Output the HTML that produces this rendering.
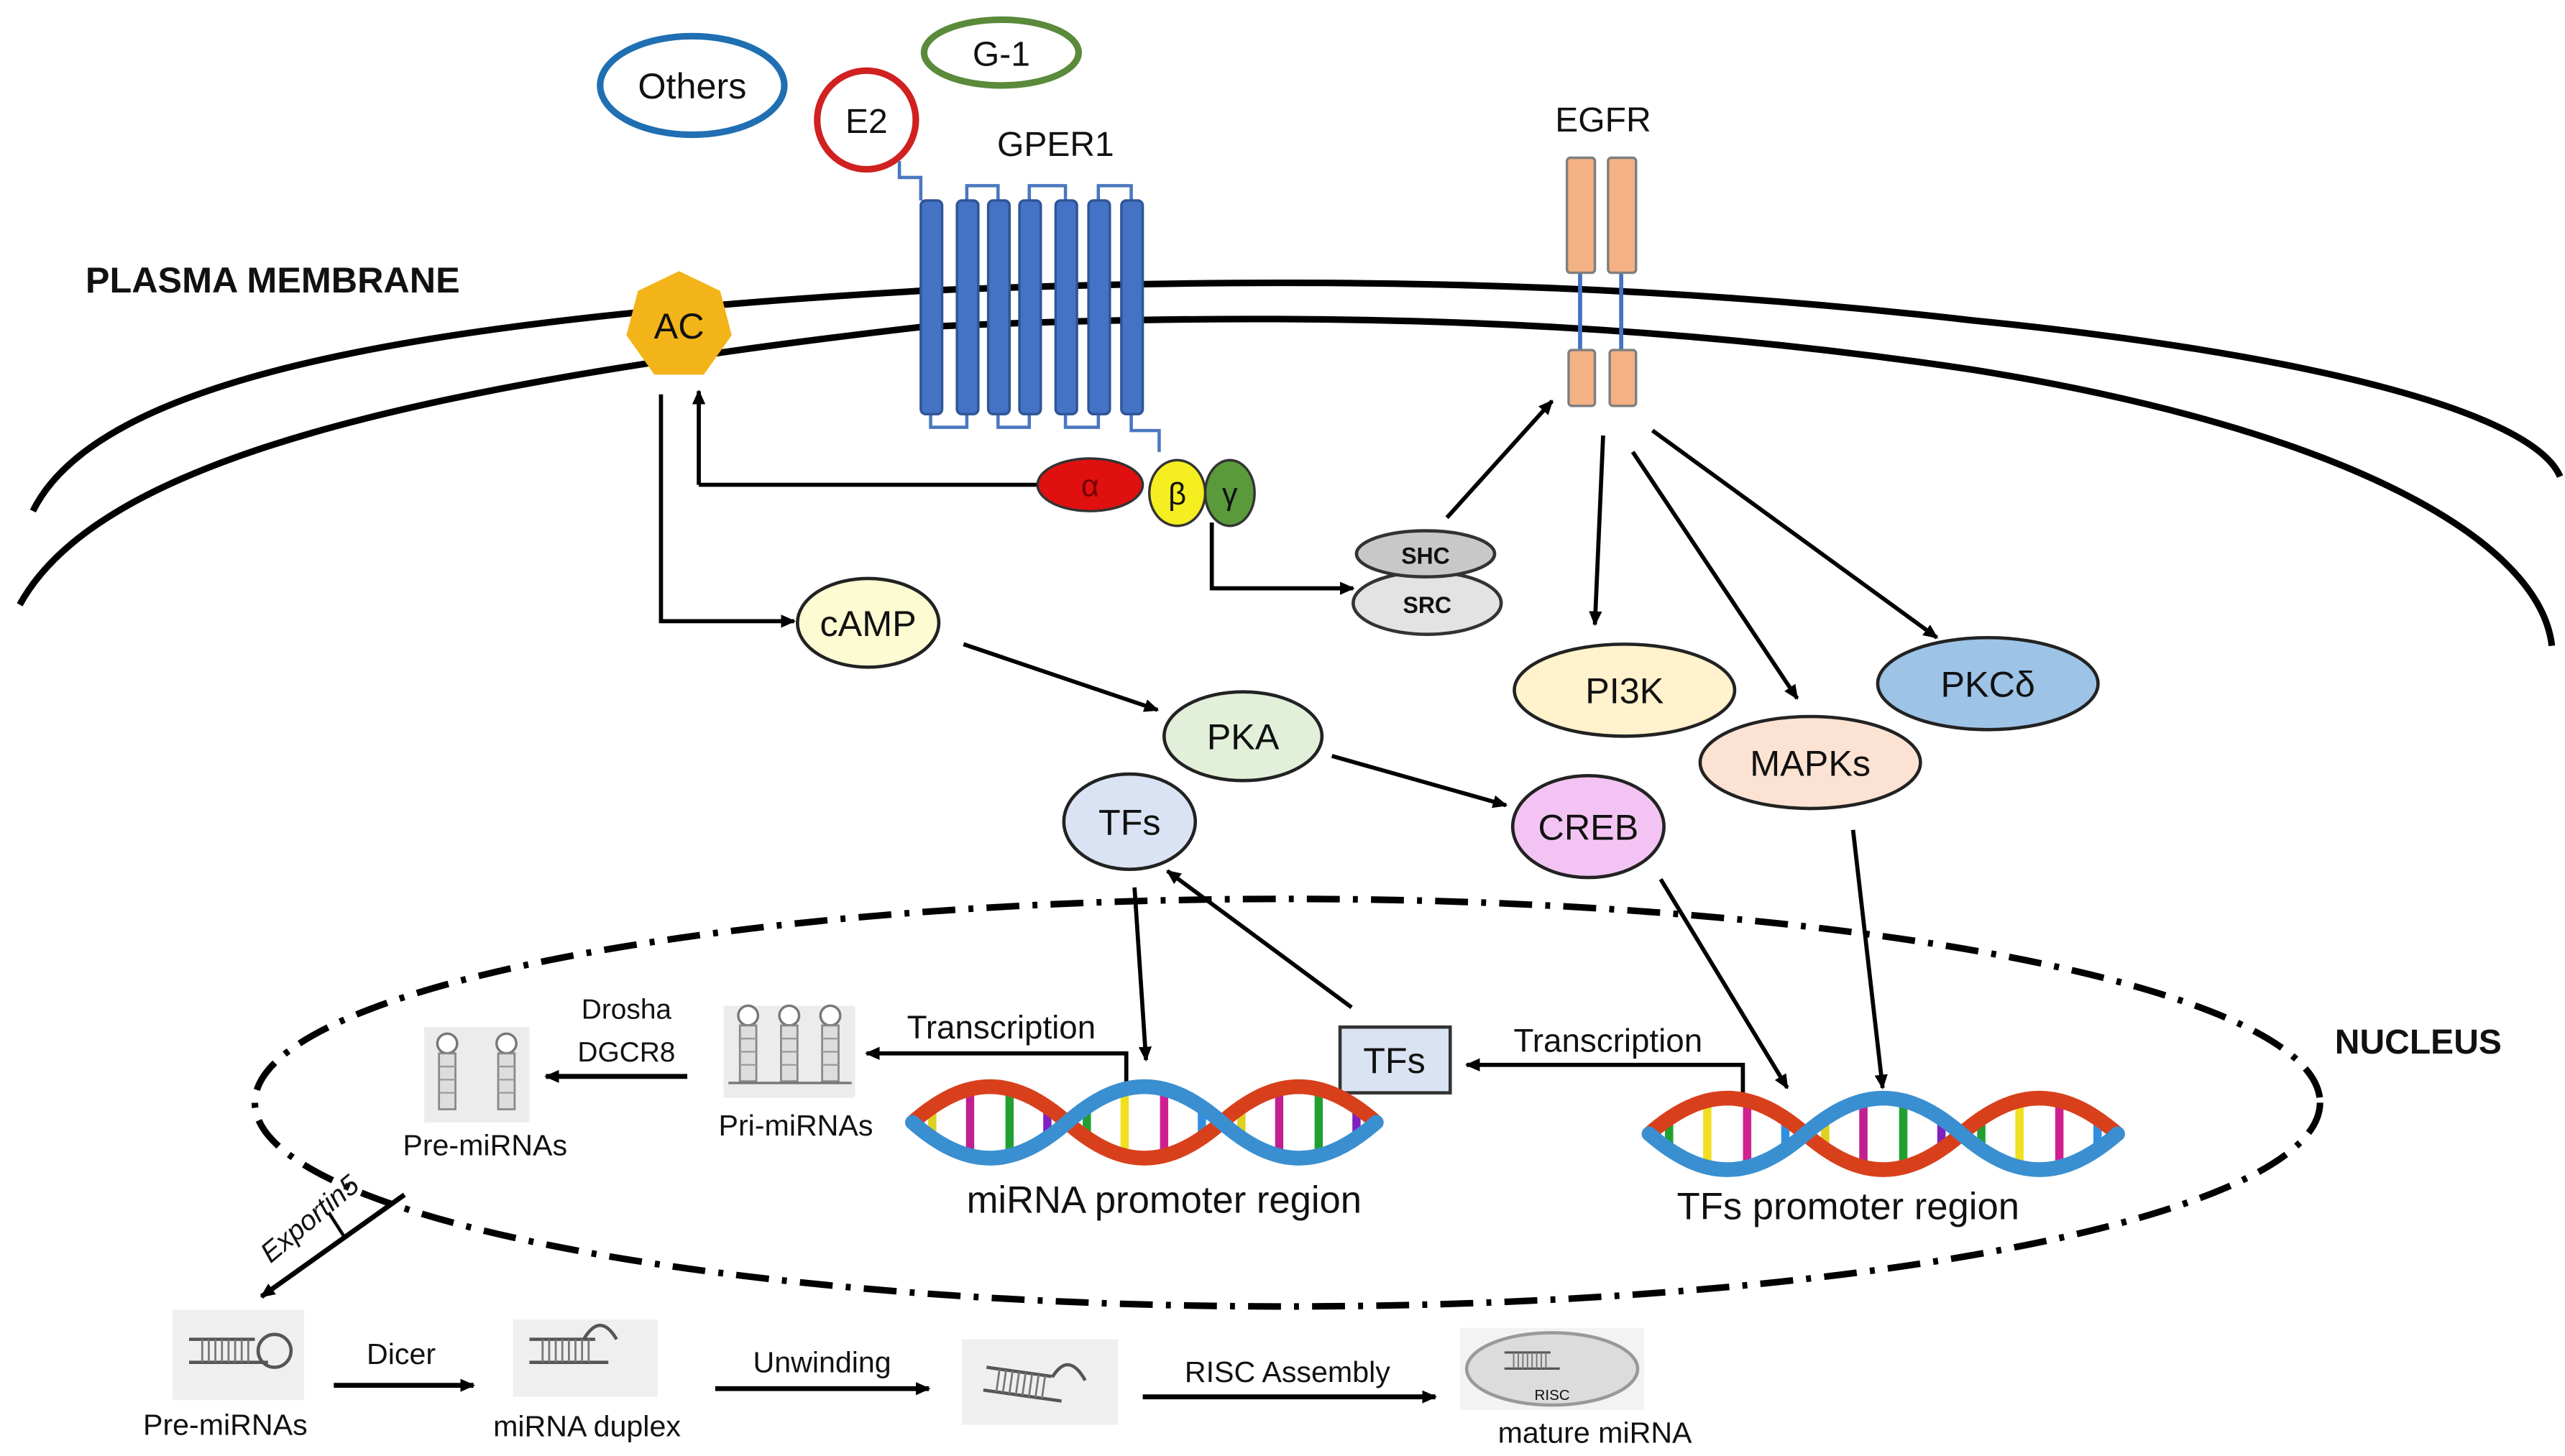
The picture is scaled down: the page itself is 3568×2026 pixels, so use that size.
<!DOCTYPE html>
<html><head><meta charset="utf-8"><style>
html,body{margin:0;padding:0;background:#fff;}
svg{display:block;}
text{font-family:"Liberation Sans",sans-serif;fill:#111;}
</style></head><body>
<svg width="3568" height="2026" viewBox="0 0 1560 886" preserveAspectRatio="none" xmlns="http://www.w3.org/2000/svg">
<defs>
<marker id="ah" markerWidth="10" markerHeight="10" refX="8" refY="5" orient="auto" markerUnits="userSpaceOnUse">
<path d="M0,1 L9,5 L0,9 z" fill="#000"/></marker>
<path id="strand" d="M0 0 C33 -29 61 -29 94 0 C127 29 155 29 188 0 C221 -29 249 -29 282 0" fill="none" stroke-width="9" stroke-linecap="round"/>
<g id="bars94">
<line x1="12" y1="-8" x2="12" y2="8" stroke="#e0d020" stroke-width="5"/>
<line x1="35" y1="-20" x2="35" y2="20" stroke="#c02090" stroke-width="5"/>
<line x1="59" y1="-20" x2="59" y2="20" stroke="#20a030" stroke-width="5"/>
<line x1="82" y1="-8" x2="82" y2="8" stroke="#8020c0" stroke-width="5"/>
</g>
<g id="bars94b">
<line x1="12" y1="-8" x2="12" y2="8" stroke="#20a030" stroke-width="5"/>
<line x1="35" y1="-20" x2="35" y2="20" stroke="#f0e020" stroke-width="5"/>
<line x1="59" y1="-20" x2="59" y2="20" stroke="#d02090" stroke-width="5"/>
<line x1="82" y1="-8" x2="82" y2="8" stroke="#3090e0" stroke-width="5"/>
</g>
<g id="hairpin">
<circle cx="0" cy="-20" r="6" fill="#fff" stroke="#777" stroke-width="1.5"/>
<rect x="-5" y="-14" width="10" height="34" fill="#ddd" stroke="#888" stroke-width="1.2"/>
<line x1="-5" y1="-6" x2="5" y2="-6" stroke="#999"/><line x1="-5" y1="2" x2="5" y2="2" stroke="#999"/><line x1="-5" y1="10" x2="5" y2="10" stroke="#999"/>
</g>
<g id="duplex">
<line x1="0" y1="0" x2="40" y2="0" stroke="#555" stroke-width="2"/>
<line x1="0" y1="14" x2="48" y2="14" stroke="#555" stroke-width="2"/>
<path d="M8 0 v14 M12 0 v14 M16 0 v14 M20 0 v14 M24 0 v14 M28 0 v14 M32 0 v14 M36 0 v14" stroke="#777" stroke-width="1.2"/>
</g>
</defs>

<!-- membrane -->
<path d="M20 311 C60 230 250 195 560 177 C800 167 1000 172 1200 195 C1400 215 1540 250 1557 290" fill="none" stroke="#000" stroke-width="4"/>
<path d="M12 368 C60 280 250 235 560 199 C800 188 1000 195 1200 225 C1430 262 1545 330 1552 393" fill="none" stroke="#000" stroke-width="4"/>
<text x="52" y="178" font-size="22" font-weight="bold">PLASMA MEMBRANE</text>

<!-- ligands -->
<ellipse cx="421" cy="52" rx="56" ry="30" fill="#fff" stroke="#1f6fb2" stroke-width="4"/>
<text x="421" y="60" font-size="22" text-anchor="middle">Others</text>
<ellipse cx="609" cy="32" rx="47" ry="20" fill="#fff" stroke="#5a8a3a" stroke-width="4"/>
<text x="609" y="40" font-size="21" text-anchor="middle">G-1</text>
<circle cx="527" cy="73" r="30" fill="#fff" stroke="#d02020" stroke-width="4"/>
<text x="527" y="81" font-size="21" text-anchor="middle">E2</text>
<text x="642" y="95" font-size="21" text-anchor="middle">GPER1</text>

<!-- GPER1 -->
<g fill="none" stroke="#4a78c0" stroke-width="2">
<path d="M547 98 V108 H560 V122"/>
<path d="M588 122 V113 H607 V122 M626 122 V113 H648 V122 M668 122 V113 H688 V122"/>
<path d="M566 252 V260 H588 V252 M607 252 V260 H626 V252 M648 252 V260 H668 V252"/>
<path d="M688 252 V262 H705 V275"/>
</g>
<g fill="#4472c4" stroke="#2f5597" stroke-width="1.5">
<rect x="560" y="122" width="13" height="130" rx="3"/>
<rect x="582" y="122" width="13" height="130" rx="3"/>
<rect x="601" y="122" width="13" height="130" rx="3"/>
<rect x="620" y="122" width="13" height="130" rx="3"/>
<rect x="642" y="122" width="13" height="130" rx="3"/>
<rect x="662" y="122" width="13" height="130" rx="3"/>
<rect x="682" y="122" width="13" height="130" rx="3"/>
</g>

<!-- AC -->
<polygon points="413,165 438,177 445,204 428,228 398,228 381,204 388,177" fill="#f2b418"/>
<text x="413" y="206" font-size="22" text-anchor="middle">AC</text>

<!-- G protein -->
<line x1="633" y1="295" x2="425" y2="295" stroke="#000" stroke-width="2.5"/>
<line x1="425" y1="295" x2="425" y2="238" stroke="#000" stroke-width="2.5" marker-end="url(#ah)"/>
<polyline points="402,240 402,378 483,378" fill="none" stroke="#000" stroke-width="2.5" marker-end="url(#ah)"/>
<ellipse cx="663" cy="295" rx="32" ry="16" fill="#e01010" stroke="#333" stroke-width="1.5"/>
<text x="663" y="302" font-size="19" text-anchor="middle" style="fill:#700">α</text>
<ellipse cx="716" cy="300" rx="17" ry="20" fill="#f5ee20" stroke="#333" stroke-width="1.5"/>
<text x="716" y="307" font-size="19" text-anchor="middle">β</text>
<ellipse cx="748" cy="300" rx="15" ry="20" fill="#5a9a3a" stroke="#333" stroke-width="1.5"/>
<text x="748" y="307" font-size="19" text-anchor="middle">γ</text>
<polyline points="737,318 737,358 823,358" fill="none" stroke="#000" stroke-width="2.5" marker-end="url(#ah)"/>

<!-- SHC SRC -->
<ellipse cx="868" cy="367" rx="45" ry="19" fill="#e3e3e3" stroke="#333" stroke-width="2"/>
<ellipse cx="867" cy="337" rx="42" ry="14" fill="#c8c8c8" stroke="#333" stroke-width="2"/>
<text x="867" y="343" font-size="14" font-weight="bold" text-anchor="middle">SHC</text>
<text x="868" y="373" font-size="14" font-weight="bold" text-anchor="middle">SRC</text>

<!-- EGFR -->
<text x="975" y="80" font-size="21" text-anchor="middle">EGFR</text>
<line x1="961" y1="165" x2="961" y2="213" stroke="#4472c4" stroke-width="2.5"/>
<line x1="986" y1="165" x2="986" y2="213" stroke="#4472c4" stroke-width="2.5"/>
<g fill="#f4b183" stroke="#7f7f7f" stroke-width="1.5">
<rect x="953" y="96" width="17" height="70" rx="2"/>
<rect x="978" y="96" width="17" height="70" rx="2"/>
<rect x="954" y="213" width="16" height="34" rx="2"/>
<rect x="979" y="213" width="16" height="34" rx="2"/>
</g>

<!-- nodes -->
<ellipse cx="988" cy="420" rx="67" ry="28" fill="#fff2cc" stroke="#222" stroke-width="2"/>
<text x="988" y="428" font-size="22" text-anchor="middle">PI3K</text>
<ellipse cx="1209" cy="416" rx="67" ry="28" fill="#9dc3e6" stroke="#222" stroke-width="2"/>
<text x="1209" y="424" font-size="22" text-anchor="middle">PKCδ</text>
<ellipse cx="1101" cy="464" rx="67" ry="28" fill="#fbe2d2" stroke="#222" stroke-width="2"/>
<text x="1101" y="472" font-size="22" text-anchor="middle">MAPKs</text>
<ellipse cx="528" cy="379" rx="43" ry="27" fill="#fdfbd2" stroke="#222" stroke-width="2"/>
<text x="528" y="387" font-size="22" text-anchor="middle">cAMP</text>
<ellipse cx="756" cy="448" rx="48" ry="27" fill="#e2efd9" stroke="#222" stroke-width="2"/>
<text x="756" y="456" font-size="22" text-anchor="middle">PKA</text>
<ellipse cx="687" cy="500" rx="40" ry="29" fill="#dae3f3" stroke="#222" stroke-width="2"/>
<text x="687" y="508" font-size="22" text-anchor="middle">TFs</text>
<ellipse cx="966" cy="503" rx="46" ry="31" fill="#f3c4f3" stroke="#222" stroke-width="2"/>
<text x="966" y="511" font-size="22" text-anchor="middle">CREB</text>

<!-- arrows -->
<g stroke="#000" stroke-width="2.5" marker-end="url(#ah)">
<line x1="880" y1="315" x2="944" y2="244"/>
<line x1="975" y1="265" x2="970" y2="380"/>
<line x1="993" y1="275" x2="1093" y2="425"/>
<line x1="1005" y1="262" x2="1178" y2="388"/>
<line x1="586" y1="392" x2="704" y2="432"/>
<line x1="810" y1="460" x2="916" y2="490"/>
<line x1="1010" y1="535" x2="1087" y2="662"/>
<line x1="1127" y1="505" x2="1145" y2="662"/>
<line x1="690" y1="540" x2="697" y2="645"/>
<line x1="822" y1="613" x2="710" y2="530"/>
</g>

<!-- nucleus -->
<ellipse cx="783" cy="671" rx="628" ry="124" fill="none" stroke="#000" stroke-width="4" stroke-dasharray="20 8 3 8"/>
<text x="1420" y="641" font-size="21" font-weight="bold">NUCLEUS</text>

<!-- TFs box -->
<rect x="815" y="625" width="67" height="40" fill="#dae3f3" stroke="#333" stroke-width="2"/>
<text x="848" y="653" font-size="22" text-anchor="middle">TFs</text>
<polyline points="1060,670 1060,648 892,648" fill="none" stroke="#000" stroke-width="2.5" marker-end="url(#ah)"/>
<text x="978" y="640" font-size="20" text-anchor="middle">Transcription</text>
<polyline points="685,665 685,641 527,641" fill="none" stroke="#000" stroke-width="2.5" marker-end="url(#ah)"/>
<text x="609" y="632" font-size="20" text-anchor="middle">Transcription</text>

<!-- DNA 1 -->
<g transform="translate(555,683)">
<use href="#bars94"/><use href="#bars94b" x="94"/><use href="#bars94" x="188"/>
<use href="#strand" stroke="#d8401c"/>
<g transform="scale(1,-1)"><use href="#strand" stroke="#3a8fd0"/></g>
</g>
<text x="708" y="738" font-size="23" text-anchor="middle">miRNA promoter region</text>
<!-- DNA 2 -->
<g transform="translate(1003,690) scale(1.01,1)">
<use href="#bars94b"/><use href="#bars94" x="94"/><use href="#bars94b" x="188"/>
<use href="#strand" stroke="#d8401c"/>
<g transform="scale(1,-1)"><use href="#strand" stroke="#3a8fd0"/></g>
</g>
<text x="1124" y="742" font-size="23" text-anchor="middle">TFs promoter region</text>

<!-- Pri-miRNAs -->
<rect x="440" y="612" width="80" height="56" fill="#ececec"/>
<use href="#hairpin" x="455" y="638"/><use href="#hairpin" x="480" y="638"/><use href="#hairpin" x="505" y="638"/>
<line x1="443" y1="659" x2="518" y2="659" stroke="#777" stroke-width="1.5"/>
<text x="484" y="691" font-size="18" text-anchor="middle">Pri-miRNAs</text>
<line x1="418" y1="655" x2="332" y2="655" stroke="#000" stroke-width="3" marker-end="url(#ah)"/>
<text x="381" y="620" font-size="17" text-anchor="middle">Drosha</text>
<text x="381" y="646" font-size="17" text-anchor="middle">DGCR8</text>
<!-- Pre-miRNAs in nucleus -->
<rect x="258" y="625" width="64" height="58" fill="#ececec"/>
<use href="#hairpin" x="272" y="655"/><use href="#hairpin" x="308" y="655"/>
<text x="295" y="703" font-size="18" text-anchor="middle">Pre-miRNAs</text>

<!-- Exportin5 -->
<line x1="246" y1="727" x2="159" y2="789" stroke="#000" stroke-width="3" marker-end="url(#ah)"/>
<line x1="200" y1="738" x2="209" y2="752" stroke="#000" stroke-width="2"/>
<text x="0" y="0" font-size="17" font-style="italic" transform="translate(192,746) rotate(-40)" text-anchor="middle">Exportin5</text>

<!-- bottom row -->
<rect x="105" y="797" width="80" height="55" fill="#efefef"/>
<use href="#duplex" x="115" y="815"/>
<circle cx="167" cy="822" r="10" fill="none" stroke="#555" stroke-width="2"/>
<text x="137" y="873" font-size="18" text-anchor="middle">Pre-miRNAs</text>
<line x1="203" y1="843" x2="288" y2="843" stroke="#000" stroke-width="3" marker-end="url(#ah)"/>
<text x="244" y="830" font-size="18" text-anchor="middle">Dicer</text>
<rect x="312" y="803" width="88" height="47" fill="#efefef"/>
<use href="#duplex" x="322" y="815"/>
<path d="M355 815 Q365 798 375 815" fill="none" stroke="#555" stroke-width="2"/>
<text x="357" y="874" font-size="18" text-anchor="middle">miRNA duplex</text>
<line x1="435" y1="845" x2="565" y2="845" stroke="#000" stroke-width="3" marker-end="url(#ah)"/>
<text x="500" y="835" font-size="18" text-anchor="middle">Unwinding</text>
<rect x="585" y="815" width="95" height="52" fill="#efefef"/>
<g transform="translate(600,832) rotate(8)"><use href="#duplex"/></g>
<path d="M640 838 Q650 822 660 840" fill="none" stroke="#555" stroke-width="2"/>
<line x1="695" y1="850" x2="873" y2="850" stroke="#000" stroke-width="3" marker-end="url(#ah)"/>
<text x="783" y="841" font-size="18" text-anchor="middle">RISC Assembly</text>
<rect x="888" y="808" width="112" height="50" fill="#f3f3f3"/>
<ellipse cx="944" cy="833" rx="52" ry="22" fill="#dcdcdc" stroke="#999" stroke-width="2"/>
<g transform="translate(915,823) scale(0.7)"><use href="#duplex"/></g>
<text x="944" y="852" font-size="9" text-anchor="middle">RISC</text>
<text x="970" y="878" font-size="18" text-anchor="middle">mature miRNA</text>
</svg>
</body></html>
